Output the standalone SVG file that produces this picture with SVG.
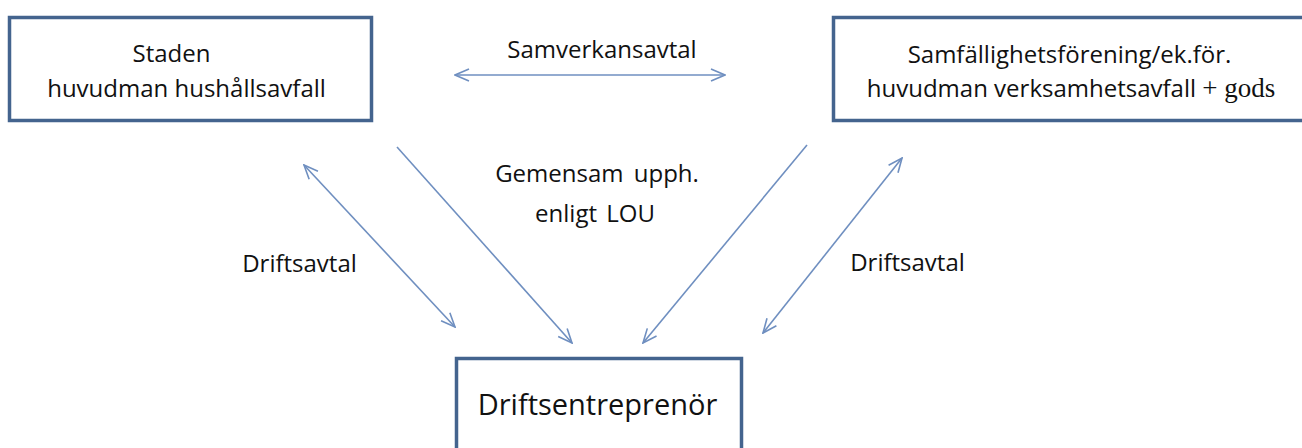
<svg xmlns="http://www.w3.org/2000/svg" width="1302" height="448" viewBox="0 0 1302 448">
  <style>
    .box { fill: #ffffff; stroke: #44648e; stroke-width: 3.5; }
    .t { font-family: "Open Sans", "Liberation Sans", sans-serif; font-size: 24px; fill: #111111; text-anchor: middle; }
    .big { font-size: 29px; }
    .conn { stroke: #6f8fc0; stroke-width: 1.6; fill: none; }
    .serif { font-family: "Liberation Serif", serif; font-size: 27px; }
  </style>
  <defs>
    <marker id="arr" viewBox="0 0 16 16" refX="15" refY="8" markerWidth="16" markerHeight="16" markerUnits="userSpaceOnUse" orient="auto-start-reverse">
      <path d="M1,2 L15,8 L1,14" fill="none" stroke="#6f8fc0" stroke-width="1.6"/>
    </marker>
  </defs>
  <rect width="1302" height="448" fill="#ffffff"/>

  <g id="connectors">
    <line class="conn" x1="455" y1="75" x2="725" y2="75" marker-start="url(#arr)" marker-end="url(#arr)"/>
    <line class="conn" x1="304" y1="165" x2="455" y2="327" marker-start="url(#arr)" marker-end="url(#arr)"/>
    <line class="conn" x1="397" y1="147" x2="572" y2="343" marker-end="url(#arr)"/>
    <line class="conn" x1="807" y1="145" x2="643" y2="343" marker-end="url(#arr)"/>
    <line class="conn" x1="902" y1="158" x2="763" y2="333" marker-start="url(#arr)" marker-end="url(#arr)"/>
  </g>

  <g id="labels">
    <text class="t" x="602" y="58">Samverkansavtal</text>
    <text class="t" x="597" y="182" word-spacing="4">Gemensam upph.</text>
    <text class="t" x="595" y="222" word-spacing="3">enligt LOU</text>
    <text class="t" x="299.5" y="272">Driftsavtal</text>
    <text class="t" x="907.5" y="271">Driftsavtal</text>
  </g>

  <g id="node-staden">
    <rect class="box" x="9.5" y="17.5" width="362" height="103"/>
    <text class="t" x="171.5" y="62">Staden</text>
    <text class="t" x="186.5" y="97">huvudman hushållsavfall</text>
  </g>

  <g id="node-samfallighet">
    <rect class="box" x="833.5" y="17.5" width="500" height="103"/>
    <text class="t" x="1069.5" y="63">Samfällighetsförening/ek.för.</text>
    <text class="t" x="1071" y="97">huvudman verksamhetsavfall <tspan class="serif">+ gods</tspan></text>
  </g>

  <g id="node-drift">
    <rect class="box" x="456.5" y="358.5" width="285" height="120"/>
    <text class="t big" x="597.5" y="415">Driftsentreprenör</text>
  </g>
</svg>
